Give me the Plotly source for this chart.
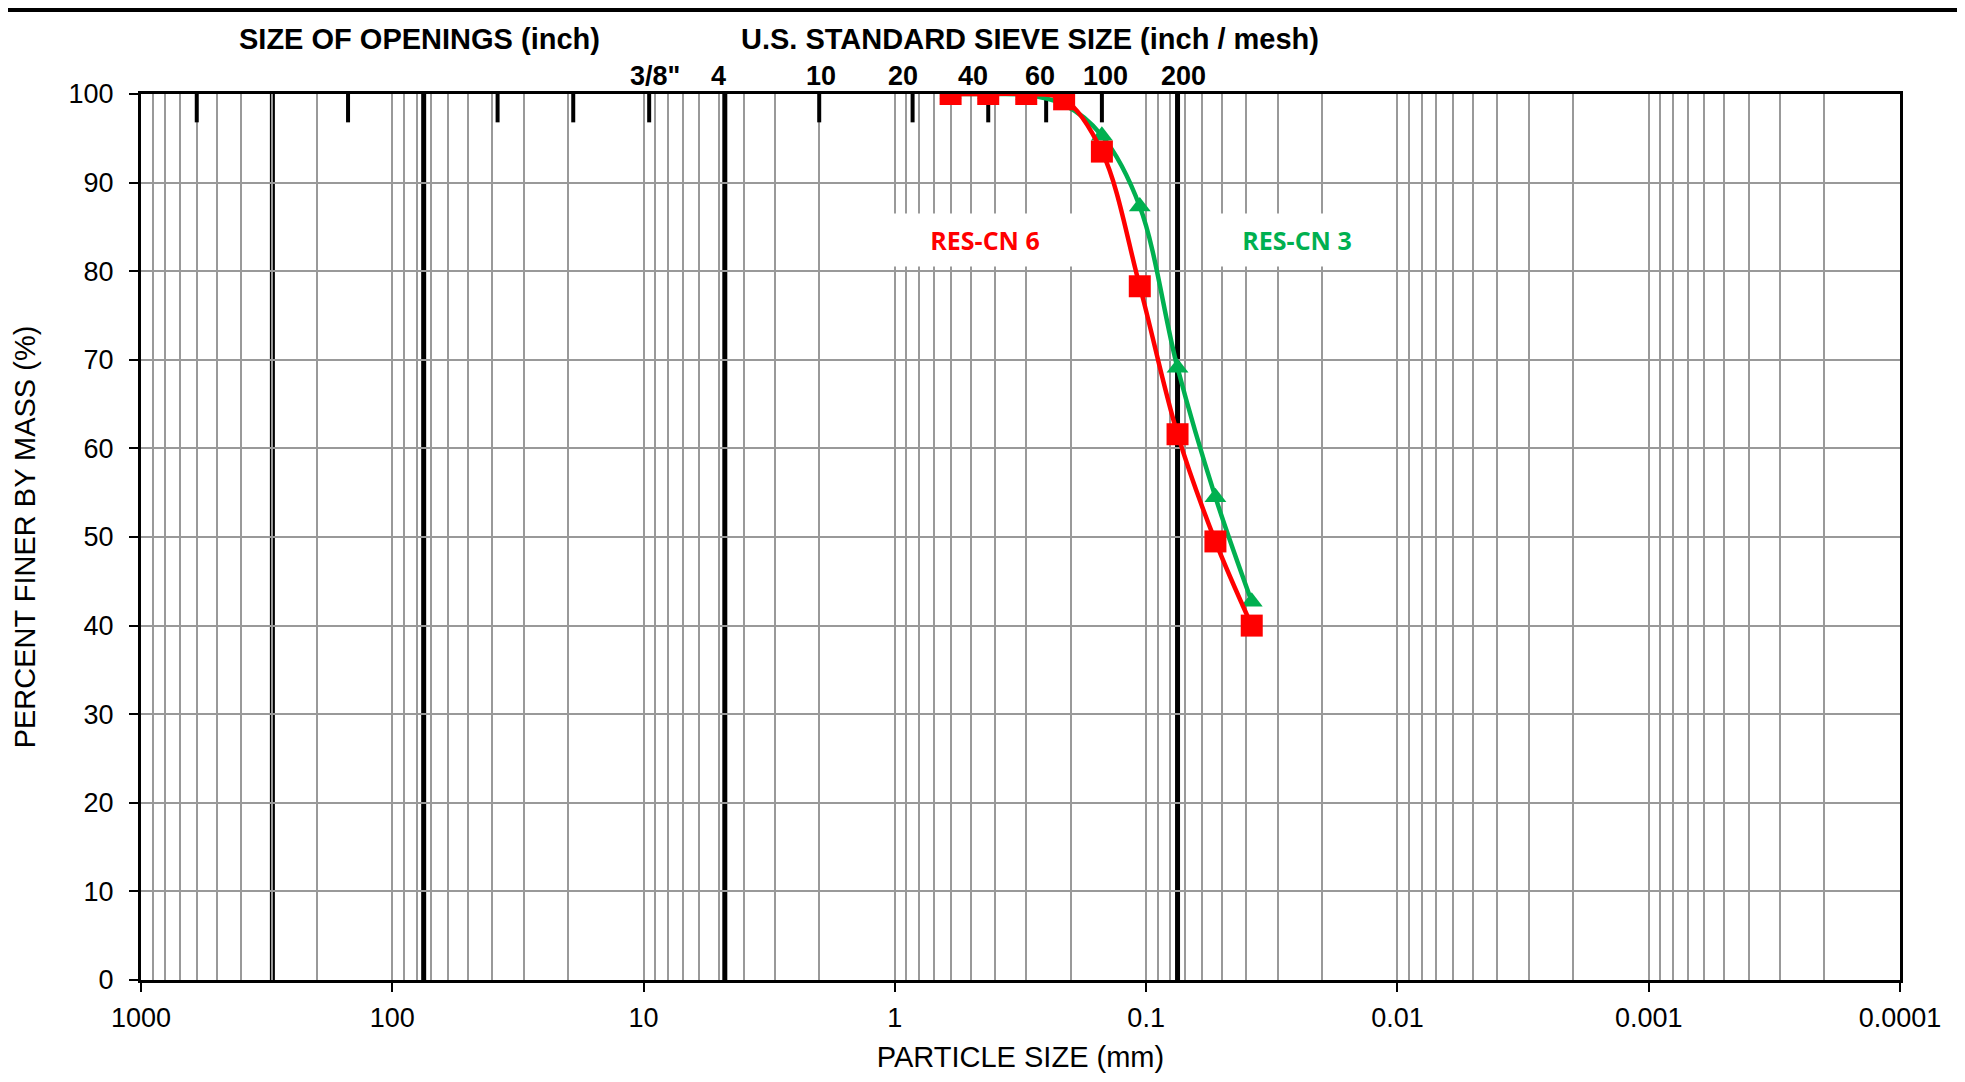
import math
import plotly.graph_objects as go

# grain size distribution (sieve openings in mm, percent finer)
sieve_mm = [0.6, 0.425, 0.3, 0.212, 0.15, 0.106, 0.075, 0.053, 0.038]
res_cn6 = [100, 100, 100, 99.4, 93.5, 78.3, 61.6, 49.5, 40.0]
res_cn3 = [100, 100, 99.9, 98.8, 95.3, 87.3, 69.1, 54.5, 42.7]

# top scale: size of openings / US standard sieves
opening_mm = [600, 150, 38.1, 19.05, 9.5, 2.0, 0.85, 0.425, 0.25, 0.15]
sieve_label_mm = [9.5, 4.75, 2.0, 0.85, 0.425, 0.25, 0.15, 0.075]
sieve_labels = ['3/8"', "4", "10", "20", "40", "60", "100", "200"]
label_shift = [6, -6, 2, -10, -15, -6, 4, 6]
boundary_mm = [300, 75, 4.75, 0.075]

decades = [1000, 100, 10, 1, 0.1, 0.01, 0.001, 0.0001]
decade_text = ["1000", "100", "10", "1", "0.1", "0.01", "0.001", "0.0001"]
minor_vals = [m * d for d in [0.0001, 0.001, 0.01, 0.1, 1, 10, 100] for m in range(2, 10)]

GRID = "#999999"
FONT = "Liberation Sans, Arial, sans-serif"

fig = go.Figure()

fig.add_trace(go.Scatter(
    x=sieve_mm, y=res_cn3, name="RES-CN 3",
    mode="lines+markers",
    line=dict(color="#00B050", width=4.5, shape="spline", smoothing=1),
    marker=dict(symbol="triangle-up", size=19, color="#00B050"),
    cliponaxis=True,
))
fig.add_trace(go.Scatter(
    x=sieve_mm, y=res_cn6, name="RES-CN 6",
    mode="lines+markers",
    line=dict(color="#FF0000", width=4.5, shape="spline", smoothing=1),
    marker=dict(symbol="square", size=22, color="#FF0000"),
    cliponaxis=True,
))

# soil class boundaries
for b in boundary_mm:
    fig.add_shape(type="line", xref="x", yref="paper", x0=b, x1=b, y0=0, y1=1,
                  line=dict(color="black", width=5), layer="between")

# short sieve ticks hanging from the top
for s in opening_mm:
    fig.add_shape(type="line", xref="x", yref="y", x0=s, x1=s, y0=100, y1=96.8,
                  line=dict(color="black", width=4), layer="between")

for s, t, dx in zip(sieve_label_mm, sieve_labels, label_shift):
    fig.add_annotation(x=math.log10(s), xref="x", y=1.0203, yref="paper", text="<b>%s</b>" % t,
                       showarrow=False, xshift=dx, xanchor="center", yanchor="middle",
                       font=dict(family=FONT, size=27, color="black"))

fig.add_annotation(x=0.1586, xref="paper", y=1.062, yref="paper",
                   text="<b>SIZE OF OPENINGS (inch)</b>", showarrow=False,
                   xanchor="center", yanchor="middle",
                   font=dict(family=FONT, size=29, color="black"))
fig.add_annotation(x=0.5054, xref="paper", y=1.062, yref="paper",
                   text="<b>U.S. STANDARD SIEVE SIZE (inch / mesh)</b>", showarrow=False,
                   xanchor="center", yanchor="middle",
                   font=dict(family=FONT, size=29, color="black"))

fig.add_annotation(x=math.log10(0.4377), xref="x", y=83.5, yref="y", text="<b>RES-CN 6</b>",
                   showarrow=False, bgcolor="white", width=190, height=50,
                   font=dict(family="Open Sans, sans-serif", size=25, color="#FF0000"))
fig.add_annotation(x=math.log10(0.0251), xref="x", y=83.5, yref="y", text="<b>RES-CN 3</b>",
                   showarrow=False, bgcolor="white", width=180, height=50,
                   font=dict(family="Open Sans, sans-serif", size=25, color="#00B050"))

# black band along the very top of the image
fig.add_shape(type="rect", xref="paper", yref="paper", x0=-0.2, x1=1.2,
              y0=1.0925, y1=1.12, fillcolor="black", line=dict(width=0))

fig.update_xaxes(
    type="log", range=[3, -4], autorange=False,
    tickvals=decades, ticktext=decade_text,
    ticks="outside", ticklen=9, tickwidth=2, tickcolor="black",
    showgrid=True, gridcolor=GRID, gridwidth=2,
    minor=dict(tickvals=minor_vals, showgrid=True, gridcolor=GRID, gridwidth=2, ticks=""),
    showline=True, linecolor="black", linewidth=3, mirror=True,
    tickfont=dict(family=FONT, size=27, color="black"), ticklabelstandoff=3,
    title=dict(text="PARTICLE SIZE (mm)", font=dict(family=FONT, size=29, color="black"),
               standoff=15),
)
fig.update_yaxes(
    range=[0, 100], autorange=False, dtick=10,
    ticks="outside", ticklen=9, tickwidth=2, tickcolor="black",
    showgrid=True, gridcolor=GRID, gridwidth=2, zeroline=False,
    showline=True, linecolor="black", linewidth=3, mirror=True,
    tickfont=dict(family=FONT, size=27, color="black"), ticklabelstandoff=10,
    title=dict(text="PERCENT FINER BY MASS (%)", font=dict(family=FONT, size=29, color="black"),
               standoff=25),
)

# page body keeps an 8px margin, so the figure is trimmed by that much
fig.update_layout(
    width=1957, height=1074,
    margin=dict(l=133, r=65, t=86, b=102),
    paper_bgcolor="white", plot_bgcolor="white",
    showlegend=False,
)

fig.write_html("out.html")
